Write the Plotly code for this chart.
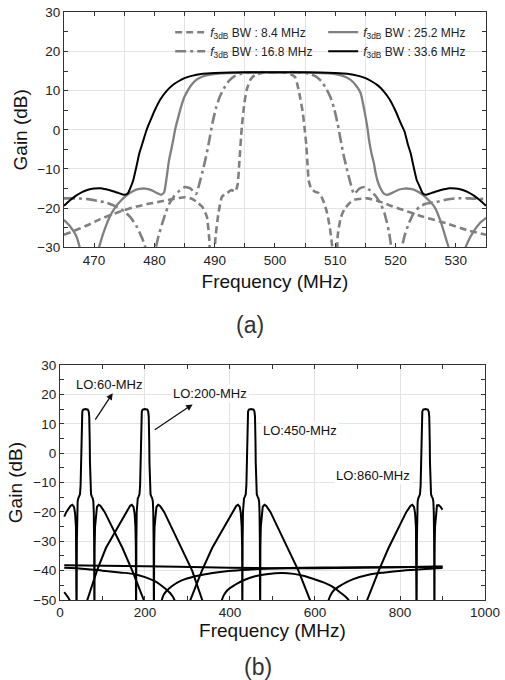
import plotly.graph_objects as go
from plotly.subplots import make_subplots

# ---- (a) gain vs frequency for four 3dB bandwidths ----
bw84_f = [465, 467, 469, 471, 473, 475, 477, 479, 481, 483,
          485, 486.2, 487.2, 488, 488.7, 489.1, 489.4, 489.8, 490.1, 490.6,
          491.2, 492, 492.8, 493.4, 493.8, 494.1, 494.5, 494.9, 495.3, 496,
          496.7, 498, 500, 502, 503.3, 503.8, 504.2, 504.6, 504.9, 505.2,
          505.4, 505.6, 506, 506.6, 507.2, 507.6, 508.1, 508.6, 509.1, 509.5,
          509.8, 510.1, 510.4, 510.9, 511.5, 512.3, 513.1, 515.3, 517.5, 519.4,
          521.3, 524.6, 528.5, 531.8, 535]
bw84_g = [-26.8, -25.6, -24.3, -22.8, -21.6, -20.5, -19.6, -18.9, -18.3, -17.7,
          -17.2, -17.6, -18.6, -19.8, -22.2, -28, -36, -36, -28, -21.5,
          -17.1, -16.2, -15.4, -15.8, -14, -8, 0.8, 6.5, 10.2, 13,
          14, 14.6, 14.7, 14.6, 13.5, 11, 8, 4.5, 0.5, -4,
          -9, -13, -15, -15.8, -16.1, -16.8, -18.5, -21, -25, -30,
          -36, -36, -27, -22.5, -20.3, -18.8, -17.9, -17.5, -18.4, -19.5,
          -20.5, -22.2, -23.9, -25.6, -26.8]

bw168_f = [465, 467, 469, 470.5, 472, 473.5, 475, 476, 477, 478,
           478.7, 479.4, 480.1, 480.7, 481.3, 481.9, 482.5, 483.3, 484.2, 485.1,
           486, 486.9, 487.5, 488, 488.5, 489, 489.6, 490.2, 490.8, 491.5,
           492.3, 493.3, 494.5, 496.5, 500, 503.5, 505.5, 506.7, 507.7, 508.5,
           509.2, 509.8, 510.4, 511, 511.5, 512, 512.5, 513.1, 514, 514.9,
           515.8, 516.7, 517.5, 518.2, 518.9, 519.5, 520.2, 520.9, 521.5, 522.2,
           523, 524, 525, 526.8, 528.5, 530, 532, 535]
bw168_g = [-17.5, -17.5, -17.7, -18.1, -18.6, -19.5, -20.8, -22.3, -24.5, -27.8,
           -31, -36, -31, -27, -23.9, -21, -18.8, -16.9, -15.5, -14.6,
           -15.0, -16.4, -13.5, -10.5, -7.3, -3.5, 1.5, 5.5, 8.3, 10.5,
           12.4, 13.7, 14.4, 14.7, 14.7, 14.7, 14.4, 13.7, 12.4, 10.5,
           8.3, 5.5, 1.5, -3.5, -7.3, -10.5, -13.5, -16.4, -15.0, -14.6,
           -15.5, -16.9, -18.8, -21.5, -26, -32, -36, -31, -27, -23.9,
           -21.3, -19.6, -18.9, -18.4, -17.8, -17.5, -17.5, -17.7]

bw252_f = [465, 466, 467, 467.6, 468.3, 469.5, 470.8, 471.5, 472.5, 473.5,
           474.5, 475.5, 476.5, 477.5, 478.5, 479.5, 480.5, 481.1, 481.6, 482,
           482.4, 483, 483.5, 484, 484.5, 485, 486, 487, 488, 489,
           491, 495, 500, 505, 509, 511, 512.5, 513.5, 514.2, 514.8,
           515.3, 515.6, 516, 516.4, 516.7, 517.1, 517.5, 518, 518.6, 519.3,
           520.5, 521.5, 522.5, 523.5, 524.5, 525.5, 526.5, 527.5, 528.5, 529,
           529.8, 530.6, 531.4, 532, 533, 534, 535]
bw252_g = [-23, -24.6, -27, -30, -36, -36, -30, -26.5, -22.5, -19.8,
           -18, -16.6, -15.6, -15.1, -15.0, -15.4, -16.2, -16.6, -16.0, -12.5,
           -8, -3.5, 0.5, 3.5, 6.3, 8.5, 11.2, 12.8, 13.6, 14.0,
           14.4, 14.6, 14.7, 14.6, 14.4, 13.9, 12.8, 11.2, 9.4, 5.1,
           0.8, -2.6, -6, -8.5, -11.1, -13.5, -14.9, -16.2, -16.6, -16.2,
           -15.3, -15.0, -15.1, -15.6, -16.6, -18, -19.8, -23.5, -28.5, -31,
           -36, -36, -31, -28.6, -25.8, -23.8, -22.5]

bw336_f = [465, 466, 467, 468, 469, 470, 471, 472, 473, 474,
           475, 475.6, 476.1, 476.5, 477, 477.5, 478, 478.6, 479, 479.5,
           480, 481, 482, 483, 484, 485, 486, 488, 490, 495,
           500, 505, 510, 512, 514, 515, 516, 517, 518, 519,
           520, 520.5, 521, 521.5, 522, 522.5, 523, 523.5, 524, 524.5,
           525, 526, 527, 528, 529, 530, 531, 532, 533, 534, 535]
bw336_g = [-19.4, -18.0, -16.8, -15.9, -15.3, -15.0, -14.9, -15.2, -15.6, -16.1,
           -16.6, -16.2, -14.5, -12.8, -9.5, -6, -3.5, -0.5, 1.2, 3,
           4.8, 7.8, 9.9, 11.4, 12.4, 13.2, 13.7, 14.3, 14.5, 14.7,
           14.7, 14.7, 14.5, 14.3, 13.7, 13.2, 12.4, 11.4, 9.9, 7.8,
           4.8, 3, 1.2, -0.5, -3.5, -6, -9.5, -12.8, -14.5, -16.2,
           -16.6, -16.1, -15.6, -15.2, -14.9, -15.0, -15.3, -15.9, -16.8, -18.0, -19.4]

# ---- (b) responses at four LO frequencies ----
lo60_f = [10, 15, 25, 29, 33, 35.5, 37.5, 38.5, 39, 39.7,
          40.5, 41.5, 43, 45, 47, 48.5, 49.5, 50, 50.5, 51.2,
          52.5, 54.5, 60, 65.5, 67.5, 68.8, 69.5, 70, 70.5, 71.5,
          73, 75, 77, 78.5, 79.5, 80.3, 81, 81.5, 82.5, 84.5,
          87, 91, 95, 105, 120, 147, 170, 200]
lo60_g = [-21.6, -20, -17.9, -17.6, -18.3, -20.5, -25, -32, -60, -30,
          -20, -16.5, -15.4, -14.8, -14, -11, -3, 4, 9.5, 12.5,
          14.2, 14.8, 15, 14.8, 14.2, 12.5, 9.5, 4, -3, -11,
          -14, -14.8, -15.4, -16.5, -20, -30, -60, -32, -25, -20.5,
          -18.3, -17.6, -17.9, -20, -24.5, -32.3, -40, -51]

lo200_f = [62, 87, 108, 138, 155, 165, 169, 173, 175.5, 177.5,
           178.5, 179, 179.7, 180.5, 181.5, 183, 185, 187, 188.5, 189.5,
           190, 190.5, 191.2, 192.5, 194.5, 200, 205.5, 207.5, 208.8, 209.5,
           210, 210.5, 211.5, 213, 215, 217, 218.5, 219.5, 220.3, 221,
           221.5, 222.5, 224.5, 227, 231, 235, 245, 260, 287, 311,
           337]
lo200_g = [-51, -40, -32.3, -24.5, -20, -17.9, -17.6, -18.3, -20.5, -25,
           -32, -60, -30, -20, -16.5, -15.4, -14.8, -14, -11, -3,
           4, 9.5, 12.5, 14.2, 14.8, 15, 14.8, 14.2, 12.5, 9.5,
           4, -3, -11, -14, -14.8, -15.4, -16.5, -20, -30, -60,
           -32, -25, -20.5, -18.3, -17.6, -17.9, -20, -24.5, -32.3, -40,
           -51]

lo450_f = [304, 334, 358, 388, 405, 415, 419, 423, 425.5, 427.5,
           428.5, 429, 429.7, 430.5, 431.5, 433, 435, 437, 438.5, 439.5,
           440, 440.5, 441.2, 442.5, 444.5, 450, 455.5, 457.5, 458.8, 459.5,
           460, 460.5, 461.5, 463, 465, 467, 468.5, 469.5, 470.3, 471,
           471.5, 472.5, 474.5, 477, 481, 485, 495, 510, 537, 561,
           591]
lo450_g = [-51, -40, -32.3, -24.5, -20, -17.9, -17.6, -18.3, -20.5, -25,
           -32, -60, -30, -20, -16.5, -15.4, -14.8, -14, -11, -3,
           4, 9.5, 12.5, 14.2, 14.8, 15, 14.8, 14.2, 12.5, 9.5,
           4, -3, -11, -14, -14.8, -15.4, -16.5, -20, -30, -60,
           -32, -25, -20.5, -18.3, -17.6, -17.9, -20, -24.5, -32.3, -40,
           -51]

lo860_f = [720, 750, 773, 800, 815, 825, 829, 833, 835.5, 837.5,
           838.5, 839, 839.7, 840.5, 841.5, 843, 845, 847, 848.5, 849.5,
           850, 850.5, 851.2, 852.5, 854.5, 860, 865.5, 867.5, 868.8, 869.5,
           870, 870.5, 871.5, 873, 875, 877, 878.5, 879.5, 880.3, 881,
           881.5, 882.5, 884.5, 887, 891, 895, 900]
lo860_g = [-51, -40, -32.3, -24.5, -20, -17.9, -17.6, -18.3, -20.5, -25,
           -32, -60, -30, -20, -16.5, -15.4, -14.8, -14, -11, -3,
           4, 9.5, 12.5, 14.2, 14.8, 15, 14.8, 14.2, 12.5, 9.5,
           4, -3, -11, -14, -14.8, -15.4, -16.5, -20, -30, -60,
           -32, -25, -20, -17.8, -17.7, -18.2, -19.2]

# leakage / image curves near the floor
floor_f = [10, 200, 400, 550, 700, 900]
floor_g = [-38.2, -38.5, -39.0, -39.2, -39.0, -38.6]
arcA_f = [10, 60, 100, 140, 176, 200, 223, 240, 259, 266, 271]
arcA_g = [-39, -39.4, -40, -40.6, -41.2, -42.2, -43.6, -45.2, -47.6, -49, -50.5]
arcB_f = [238, 243, 250, 263, 285, 318, 355, 396, 450, 537, 650, 780, 900]
arcB_g = [-51, -48.5, -47, -45.3, -43.4, -41.9, -40.9, -40.1, -39.6, -39.1, -38.9, -38.8, -38.7]
arcC_f = [379, 385, 395, 412, 435, 459, 490, 522, 550, 577, 600, 620, 639, 660, 675, 684]
arcC_g = [-51, -48.5, -46.5, -44.8, -43.1, -41.9, -41.1, -40.8, -41.1, -41.9, -43, -44, -45.3, -47.5, -49.3, -51]
arcD_f = [630, 636, 645, 663, 690, 726, 765, 804, 850, 900]
arcD_g = [-51, -48.5, -46.6, -44.8, -42.9, -41.4, -40.6, -40, -39.5, -39.1]
edge_f = [10, 15, 20, 26]
edge_g = [-47.3, -48.3, -49.3, -51]

FONT = "Liberation Sans, Arial, sans-serif"
GRAY = "#808080"

fig = make_subplots(rows=2, cols=1)

def lbl(bw):
    return "<i>f</i><sub>3dB</sub> BW : " + bw + " MHz"

fig.add_trace(go.Scatter(x=bw84_f, y=bw84_g, mode="lines", name=lbl("8.4"), legend="legend",
                         line=dict(color=GRAY, width=2.6, dash="7px,4px", shape="spline", smoothing=0.5)),
              row=1, col=1)
fig.add_trace(go.Scatter(x=bw168_f, y=bw168_g, mode="lines", name=lbl("16.8"), legend="legend",
                         line=dict(color=GRAY, width=2.6, dash="11px,4px,3px,4px", shape="spline", smoothing=0.5)),
              row=1, col=1)
fig.add_trace(go.Scatter(x=bw252_f, y=bw252_g, mode="lines", name=lbl("25.2"), legend="legend2",
                         line=dict(color=GRAY, width=2.3, shape="spline", smoothing=0.5)),
              row=1, col=1)
fig.add_trace(go.Scatter(x=bw336_f, y=bw336_g, mode="lines", name=lbl("33.6"), legend="legend2",
                         line=dict(color="black", width=2, shape="spline", smoothing=0.5)),
              row=1, col=1)

for fx, gy, shp in [(floor_f, floor_g, "spline"), (arcA_f, arcA_g, "spline"), (arcB_f, arcB_g, "spline"),
                    (arcC_f, arcC_g, "spline"), (arcD_f, arcD_g, "spline"), (edge_f, edge_g, "spline"),
                    (lo60_f, lo60_g, "linear"), (lo200_f, lo200_g, "linear"),
                    (lo450_f, lo450_g, "linear"), (lo860_f, lo860_g, "linear")]:
    fig.add_trace(go.Scatter(x=fx, y=gy, mode="lines", showlegend=False,
                             line=dict(color="black", width=2, shape=shp)),
                  row=2, col=1)

ax = dict(showline=True, linecolor="#333", linewidth=1.2, mirror="allticks",
          ticks="inside", ticklen=4, tickcolor="#333", zeroline=False,
          tickfont=dict(family=FONT, size=13.5, color="#222"),
          gridcolor="#e3e3e3", gridwidth=1, automargin=False, ticklabeloverflow="allow",
          title_font=dict(family=FONT, size=19, color="#111"))

fig.update_layout(
    width=505, height=680,
    margin=dict(l=0, r=0, t=0, b=0),
    paper_bgcolor="white", plot_bgcolor="white",
    font=dict(family=FONT, color="#111"),
    xaxis=dict(ax, domain=[0.1267, 0.9624], range=[465, 535], tick0=470, dtick=10, showgrid=False,
               minor=dict(tick0=475, dtick=10, ticks="inside", ticklen=4, tickcolor="#333",
                          showgrid=True, gridcolor="#e3e3e3"),
               title=dict(text="Frequency (MHz)", standoff=8)),
    yaxis=dict(ax, domain=[0.6363, 0.9819], range=[-30, 30], dtick=10, showgrid=True,
               minor=dict(dtick=5, ticks="inside", ticklen=4, tickcolor="#333", showgrid=False),
               title=dict(text="Gain (dB)", standoff=4)),
    xaxis2=dict(ax, domain=[0.1188, 0.9604], range=[0, 1000], dtick=200, showgrid=True,
                minor=dict(dtick=100, ticks="inside", ticklen=4, tickcolor="#333", showgrid=False),
                title=dict(text="Frequency (MHz)", standoff=4)),
    yaxis2=dict(ax, domain=[0.1176, 0.4632], range=[-50, 30], dtick=10, showgrid=True,
                minor=dict(dtick=5, ticks="inside", ticklen=4, tickcolor="#333", showgrid=False),
                title=dict(text="Gain (dB)", standoff=5)),
    legend=dict(x=0.337, y=0.974, xanchor="left", yanchor="top", bgcolor="rgba(0,0,0,0)",
                font=dict(family=FONT, size=12, color="#222"), tracegroupgap=0),
    legend2=dict(x=0.64, y=0.974, xanchor="left", yanchor="top", bgcolor="rgba(0,0,0,0)",
                 font=dict(family=FONT, size=12, color="#222"), tracegroupgap=0),
)

notes = [
    dict(text="(a)", x=0.495, y=1 - 325 / 680, xref="paper", yref="paper", showarrow=False,
         xanchor="center", yanchor="middle", font=dict(family=FONT, size=23, color="#333")),
    dict(text="(b)", x=0.511, y=1 - 667 / 680, xref="paper", yref="paper", showarrow=False,
         xanchor="center", yanchor="middle", font=dict(family=FONT, size=23, color="#333")),
    dict(text="LO:60-MHz", x=115, y=23.5, xref="x2", yref="y2", showarrow=False,
         font=dict(family=FONT, size=13, color="#111"), bgcolor="white"),
    dict(text="LO:200-MHz", x=353, y=20.4, xref="x2", yref="y2", showarrow=False,
         font=dict(family=FONT, size=13, color="#111"), bgcolor="white"),
    dict(text="LO:450-MHz", x=565, y=7.6, xref="x2", yref="y2", showarrow=False,
         font=dict(family=FONT, size=13, color="#111"), bgcolor="white"),
    dict(text="LO:860-MHz", x=736.5, y=-7.7, xref="x2", yref="y2", showarrow=False,
         font=dict(family=FONT, size=13, color="#111"), bgcolor="white"),
    dict(text="", x=124, y=20.4, ax=80.7, ay=10.9, xref="x2", yref="y2", axref="x2", ayref="y2",
         showarrow=True, arrowhead=2, arrowsize=1, arrowwidth=1.3, arrowcolor="#111", standoff=0),
    dict(text="", x=312, y=16.6, ax=219.6, ay=7.6, xref="x2", yref="y2", axref="x2", ayref="y2",
         showarrow=True, arrowhead=2, arrowsize=1, arrowwidth=1.3, arrowcolor="#111", standoff=0),
]
fig.update_layout(annotations=notes)

fig.write_html("out.html", config={"displayModeBar": False},
               post_script="document.body.style.margin='0';")
